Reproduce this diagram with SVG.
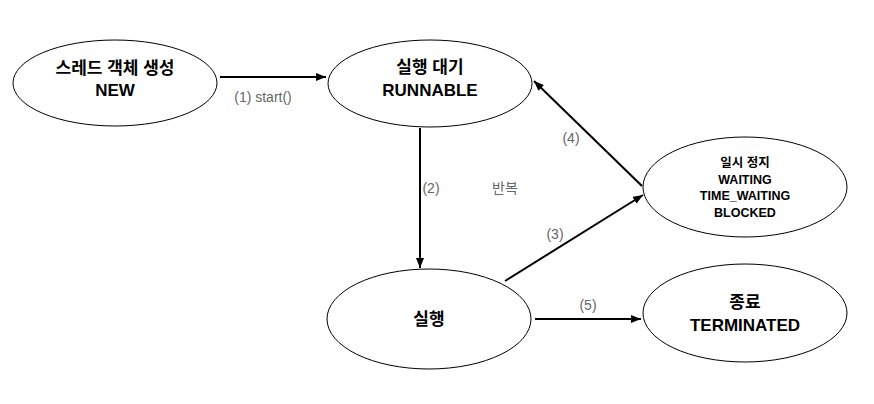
<svg xmlns="http://www.w3.org/2000/svg" width="874" height="404" viewBox="0 0 874 404">
<defs>
<marker id="arr" viewBox="0 0 10 8" refX="10" refY="4" markerWidth="10" markerHeight="8" markerUnits="userSpaceOnUse" orient="auto">
<path d="M0,0 L10,4 L0,8 Z" fill="#000"/>
</marker>
</defs>
<style>
.node ellipse{fill:#fff;stroke:#000;stroke-width:1}
.t{font-family:"Liberation Sans","Noto Sans CJK KR",sans-serif;font-weight:bold;fill:#000;text-anchor:middle}
.big{font-size:17px}
.small{font-size:12.5px}
.edge{stroke:#000;stroke-width:2;fill:none;marker-end:url(#arr)}
.lbl{font-family:"Liberation Sans","Noto Sans CJK KR",sans-serif;font-size:14px;fill:#666;text-anchor:middle}
</style>
<rect width="874" height="404" fill="#fff"/>
<g id="connectors">
<line class="edge" x1="220" y1="77" x2="326" y2="77"/>
<line class="edge" x1="420" y1="128" x2="420" y2="268"/>
<line class="edge" x1="505" y1="281" x2="643" y2="195"/>
<line class="edge" x1="642" y1="186" x2="534" y2="81"/>
<line class="edge" x1="535" y1="319" x2="641" y2="319"/>
<text class="lbl" x="263" y="102">(1) start()</text>
<text class="lbl" x="431" y="193">(2)</text>
<text class="lbl" x="555" y="239">(3)</text>
<text class="lbl" x="571" y="143">(4)</text>
<text class="lbl" x="588" y="310">(5)</text>
<text class="lbl" x="505" y="193">반복</text>
</g>
<g id="node-new" class="node">
<ellipse cx="115" cy="83" rx="102" ry="43"/>
<text class="t big" x="115" y="74">스레드 객체 생성</text>
<text class="t big" x="115" y="96">NEW</text>
</g>
<g id="node-runnable" class="node">
<ellipse cx="430" cy="83.5" rx="102" ry="43.5"/>
<text class="t big" x="430" y="73">실행 대기</text>
<text class="t big" x="430" y="96">RUNNABLE</text>
</g>
<g id="node-waiting" class="node">
<ellipse cx="745" cy="187" rx="102" ry="50"/>
<text class="t small" x="745" y="167">일시 정지</text>
<text class="t small" x="745" y="183.5">WAITING</text>
<text class="t small" x="745" y="200">TIME_WAITING</text>
<text class="t small" x="745" y="216.5">BLOCKED</text>
</g>
<g id="node-running" class="node">
<ellipse cx="429" cy="319" rx="102" ry="50"/>
<text class="t big" x="429" y="325">실행</text>
</g>
<g id="node-terminated" class="node">
<ellipse cx="745" cy="313" rx="102" ry="49"/>
<text class="t big" x="745" y="308">종료</text>
<text class="t big" x="745" y="331">TERMINATED</text>
</g>
</svg>
